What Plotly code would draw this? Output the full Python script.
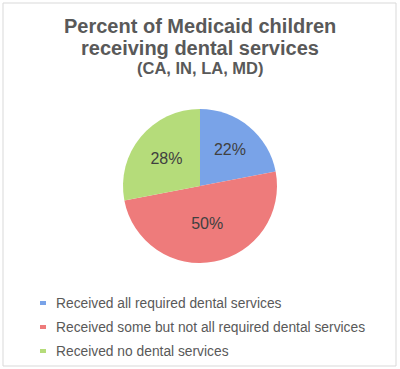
import plotly.graph_objects as go

categories = [
    "Received all required dental services",
    "Received some but not all required dental services",
    "Received no dental services",
]
values = [22, 50, 28]
colors = ["#79a3e8", "#ee7b7b", "#b5dc7a"]

title_lines = ["Percent of Medicaid children", "receiving dental services"]
subtitle = "(CA, IN, LA, MD)"

W, H = 400, 369

fig = go.Figure()
fig.add_trace(go.Pie(
    labels=categories,
    values=values,
    marker=dict(colors=colors, line=dict(width=0)),
    sort=False,
    direction="clockwise",
    rotation=0,
    textinfo="percent",
    texttemplate="%{percent:.0%}",
    textposition="inside",
    insidetextorientation="horizontal",
    textfont=dict(family="Liberation Sans, Arial", size=16, color="#404040"),
    showlegend=False,
    hoverinfo="label+percent",
    domain=dict(x=[123 / W, 277 / W], y=[(H - 263) / H, (H - 109) / H]),
))

annotations = []
title_y = [26, 48]
for line, yy in zip(title_lines, title_y):
    annotations.append(dict(
        text=f"<b>{line}</b>", x=0.5, y=1 - yy / H, xref="paper", yref="paper",
        xanchor="center", yanchor="middle", showarrow=False,
        font=dict(family="Liberation Sans, Arial", size=20, color="#595959"),
    ))
annotations.append(dict(
    text=f"<b>{subtitle}</b>", x=0.5, y=1 - 68 / H, xref="paper", yref="paper",
    xanchor="center", yanchor="middle", showarrow=False,
    font=dict(family="Liberation Sans, Arial", size=16.5, color="#595959"),
))

shapes = [dict(type="rect", xref="paper", yref="paper",
               x0=3 / W, x1=396 / W, y0=1 - 366 / H, y1=1 - 3 / H,
               line=dict(color="#d9d9d9", width=1), fillcolor="rgba(0,0,0,0)")]

leg_y0, leg_dy = 303, 24
for i, (cat, col) in enumerate(zip(categories, colors)):
    cy = leg_y0 + i * leg_dy
    shapes.append(dict(type="rect", xref="paper", yref="paper",
                       x0=40 / W, x1=46 / W, y0=1 - (cy + 2) / H, y1=1 - (cy - 2) / H,
                       line=dict(width=0), fillcolor=col))
    annotations.append(dict(
        text=cat, x=54 / W, y=1 - cy / H, xref="paper", yref="paper",
        xanchor="left", yanchor="middle", showarrow=False,
        font=dict(family="Liberation Sans, Arial", size=13.8, color="#595959"),
    ))

fig.update_layout(
    width=W, height=H,
    margin=dict(l=0, r=0, t=0, b=0),
    paper_bgcolor="white",
    plot_bgcolor="white",
    annotations=annotations,
    shapes=shapes,
)

fig.write_html("out.html", config={"displayModeBar": False},
               post_script="document.body.style.margin='0';")
